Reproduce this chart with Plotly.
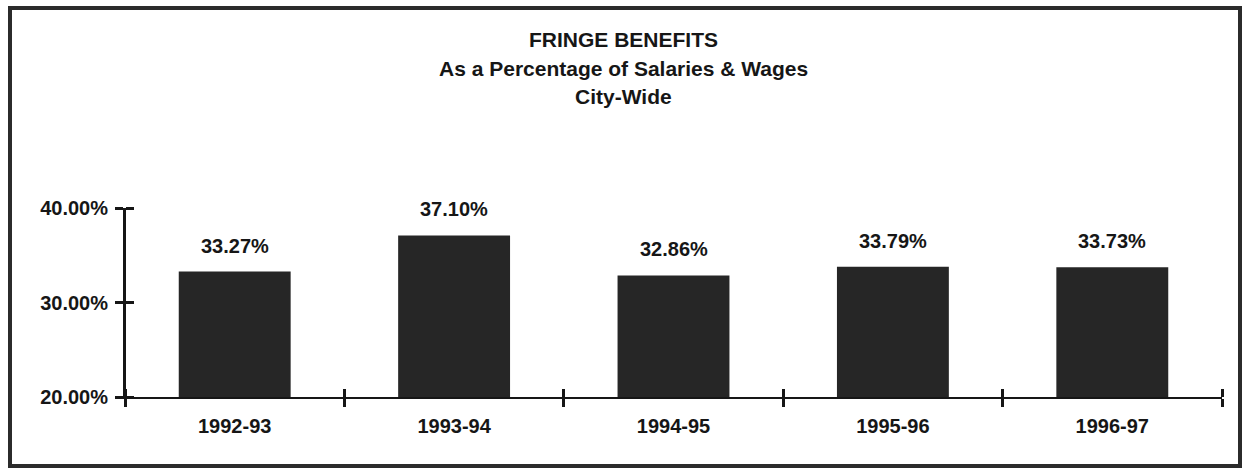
import plotly.graph_objects as go

categories = ["1992-93", "1993-94", "1994-95", "1995-96", "1996-97"]
values = [33.27, 37.10, 32.86, 33.79, 33.73]
y_ticks = [20, 30, 40]
y_tick_text = [f"{v:.2f}%" for v in y_ticks]
title_lines = ["FRINGE BENEFITS", "As a Percentage of Salaries & Wages", "City-Wide"]

W, H = 1244, 471
L, R, T, B = 125, 22, 208, 74
plot_w = W - L - R
plot_h = H - T - B

FONT = "Liberation Sans, Arial, Helvetica, sans-serif"
INK = "#161616"
BAR = "#262626"

def py(pix):
    return (H - B - pix) / plot_h

def px(pix):
    return (pix - L) / plot_w

fig = go.Figure()
fig.add_trace(go.Bar(
    x=categories, y=values, marker=dict(color=BAR, line=dict(width=0)),
    hoverinfo="skip", showlegend=False,
))
# invisible helper trace for the overlaid axes (crossing tick marks)
fig.add_trace(go.Scatter(
    x=categories, y=values, xaxis="x2", yaxis="y2", mode="markers",
    marker=dict(opacity=0), hoverinfo="skip", showlegend=False,
))

for c, v in zip(categories, values):
    fig.add_annotation(x=c, y=v, xref="x", yref="y", text=f"{v:.2f}%",
                       showarrow=False, yanchor="middle", yshift=26,
                       font=dict(family=FONT, size=20, color=INK, weight="bold"))

title_y = [39, 68, 96]
for t, yy in zip(title_lines, title_y):
    fig.add_annotation(x=px(623), y=py(yy), xref="paper", yref="paper", text=t,
                       showarrow=False, xanchor="center", yanchor="middle",
                       font=dict(family=FONT, size=21, color=INK, weight="bold"))

# outer frame
fig.add_shape(type="rect", xref="paper", yref="paper",
              x0=px(10), x1=px(1240), y0=py(466), y1=py(8),
              line=dict(color="#2b2b2b", width=4), fillcolor="rgba(0,0,0,0)", layer="above")

tick_common = dict(showgrid=False, zeroline=False, linecolor=INK,
                   tickcolor=INK, tickwidth=2.5, ticklen=8)

fig.update_layout(
    width=W, height=H, margin=dict(l=L, r=R, t=T, b=B),
    paper_bgcolor="white", plot_bgcolor="white",
    bargap=0.49, showlegend=False,
    xaxis=dict(type="category", categoryorder="array", categoryarray=categories,
               range=[-0.5, len(categories) - 0.5], showline=True, linewidth=2,
               ticks="outside", tickson="boundaries", ticklabelstandoff=10,
               tickfont=dict(family=FONT, size=20, color=INK, weight="bold"), **tick_common),
    yaxis=dict(range=[20, 40], tickvals=y_ticks, ticktext=y_tick_text,
               showline=True, linewidth=2, ticks="outside", ticklabelstandoff=3,
               tickfont=dict(family=FONT, size=20, color=INK, weight="bold"), **tick_common),
    # mirrored axes at the same spot, ticks pointing into the plot -> crossing ticks
    xaxis2=dict(type="category", categoryorder="array", categoryarray=categories,
                range=[-0.5, len(categories) - 0.5], overlaying="x", anchor="free",
                position=0, side="top", showline=True, linewidth=1, ticks="outside",
                tickson="boundaries", showticklabels=False, **tick_common),
    yaxis2=dict(range=[20, 40], tickvals=y_ticks, overlaying="y", anchor="free",
                position=0, side="right", showline=True, linewidth=1, ticks="outside",
                showticklabels=False, **tick_common),
)

fig.write_html("out.html")
